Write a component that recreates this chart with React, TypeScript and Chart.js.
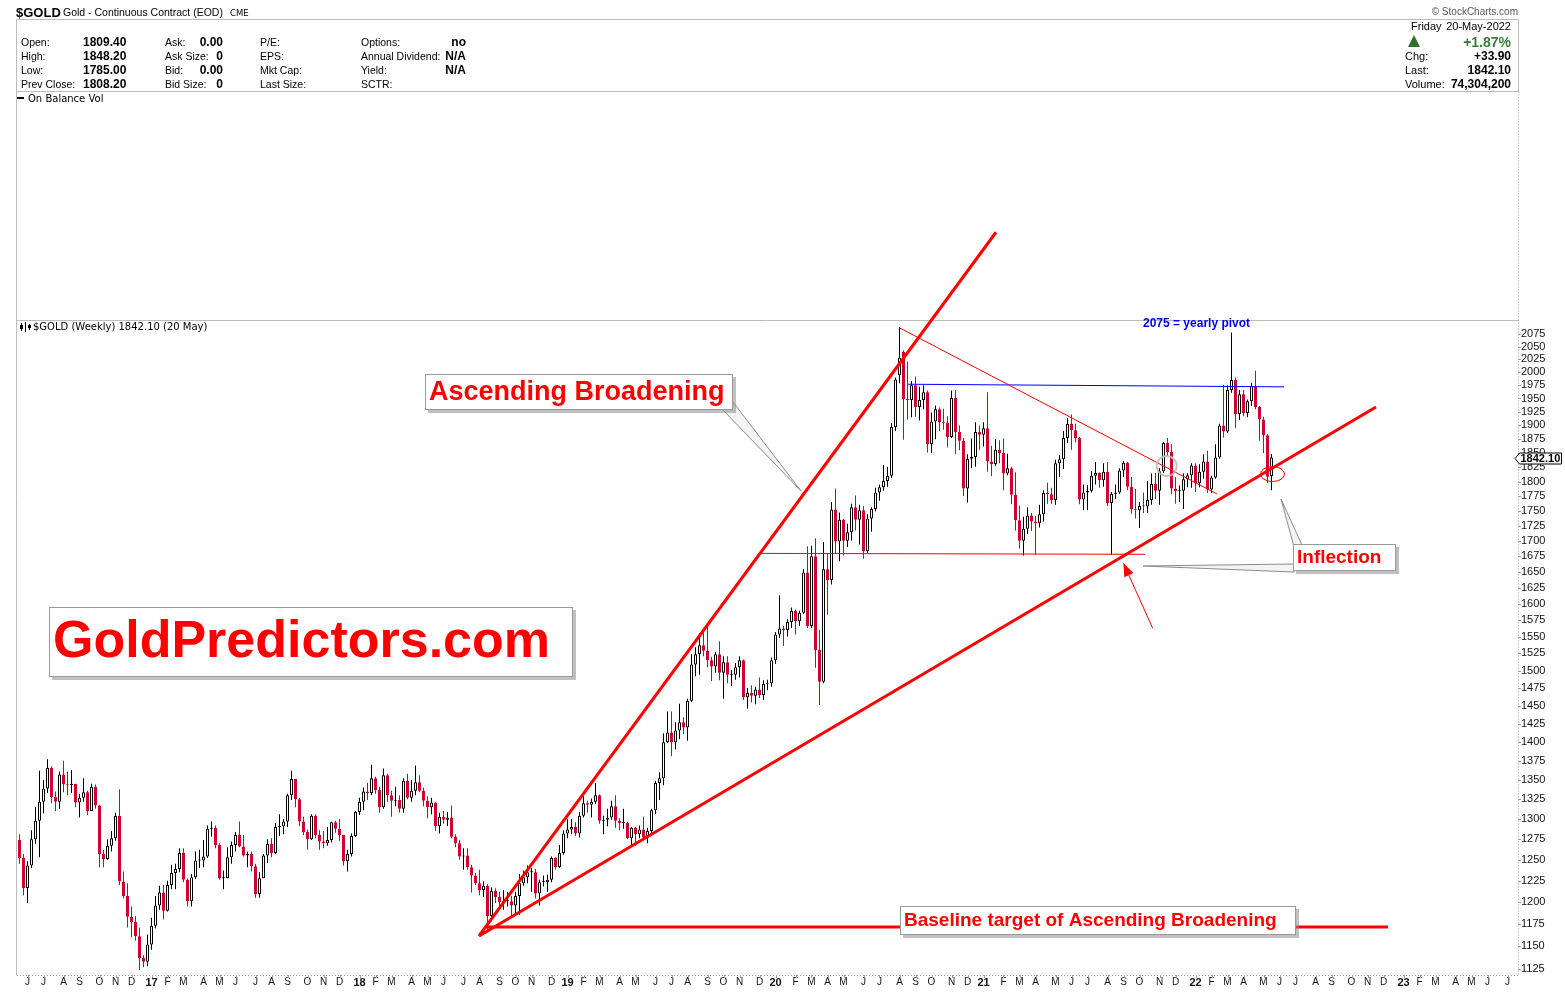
import React, { useEffect, useRef } from "react";
import { Chart, registerables } from "chart.js";

Chart.register(...registerables);

// ---------------- DATA (weekly $GOLD, first bar = week ending 2016-05-20) ----------------
const FIRST_WEEK_UTC = Date.UTC(2016, 4, 20);

const OPEN_2016 = [1274, 1252, 1216, 1243, 1275, 1298, 1322, 1339, 1366, 1328, 1322, 1357, 1344, 1343, 1345, 1321, 1327, 1334, 1310, 1341, 1317, 1257, 1251, 1267, 1276, 1304, 1224, 1207, 1183, 1177, 1161, 1137, 1133];
const HIGH_2016 = [1281, 1257, 1248, 1286, 1315, 1362, 1350, 1377, 1368, 1335, 1361, 1375, 1361, 1363, 1345, 1332, 1352, 1336, 1345, 1344, 1318, 1262, 1275, 1285, 1308, 1338, 1236, 1222, 1195, 1184, 1171, 1140, 1163];
const LOW_2016 = [1245, 1208, 1199, 1240, 1269, 1253, 1307, 1333, 1320, 1310, 1313, 1334, 1330, 1333, 1315, 1302, 1322, 1305, 1310, 1313, 1241, 1241, 1250, 1260, 1273, 1220, 1204, 1171, 1160, 1156, 1124, 1127, 1128];
const CLOSE_2016 = [1252, 1216, 1243, 1275, 1298, 1322, 1339, 1366, 1328, 1322, 1357, 1344, 1343, 1345, 1321, 1327, 1334, 1310, 1341, 1317, 1257, 1251, 1267, 1276, 1304, 1224, 1207, 1183, 1177, 1161, 1137, 1133, 1152];

const OPEN_2017 = [1152, 1173, 1196, 1211, 1190, 1220, 1234, 1239, 1258, 1226, 1201, 1229, 1249, 1249, 1254, 1288, 1289, 1268, 1228, 1228, 1253, 1268, 1280, 1266, 1255, 1257, 1242, 1209, 1228, 1255, 1269, 1258, 1290, 1291, 1297, 1330, 1351, 1325, 1297, 1284, 1275, 1304, 1280, 1272, 1270, 1274, 1296, 1288, 1280, 1248, 1257, 1279];
const HIGH_2017 = [1182, 1207, 1219, 1220, 1225, 1244, 1245, 1264, 1264, 1228, 1233, 1260, 1262, 1274, 1292, 1297, 1292, 1270, 1237, 1265, 1272, 1284, 1297, 1280, 1260, 1260, 1245, 1235, 1257, 1275, 1276, 1295, 1306, 1300, 1332, 1362, 1350, 1327, 1303, 1287, 1306, 1306, 1286, 1285, 1290, 1297, 1298, 1300, 1280, 1262, 1282, 1310];
const LOW_2017 = [1146, 1170, 1191, 1180, 1189, 1215, 1215, 1235, 1223, 1195, 1195, 1227, 1240, 1241, 1252, 1278, 1264, 1226, 1215, 1228, 1245, 1260, 1265, 1254, 1241, 1236, 1205, 1205, 1228, 1246, 1253, 1257, 1279, 1281, 1290, 1324, 1315, 1291, 1280, 1262, 1274, 1276, 1262, 1264, 1267, 1271, 1283, 1273, 1243, 1236, 1254, 1278];
const CLOSE_2017 = [1173, 1196, 1211, 1190, 1220, 1234, 1239, 1258, 1226, 1201, 1229, 1249, 1249, 1254, 1288, 1289, 1268, 1228, 1228, 1253, 1268, 1280, 1266, 1255, 1257, 1242, 1209, 1228, 1255, 1269, 1258, 1290, 1291, 1297, 1330, 1351, 1325, 1297, 1284, 1275, 1304, 1280, 1272, 1270, 1274, 1296, 1288, 1280, 1248, 1257, 1279, 1309];

const OPEN_2018 = [1309, 1322, 1335, 1333, 1352, 1337, 1315, 1356, 1330, 1323, 1324, 1313, 1349, 1327, 1336, 1347, 1336, 1323, 1315, 1321, 1291, 1303, 1299, 1302, 1278, 1270, 1254, 1255, 1241, 1231, 1222, 1214, 1219, 1184, 1213, 1206, 1200, 1201, 1201, 1196, 1207, 1222, 1229, 1235, 1235, 1210, 1223, 1223, 1226, 1252, 1241, 1258];
const HIGH_2018 = [1327, 1340, 1346, 1370, 1354, 1341, 1365, 1358, 1336, 1341, 1330, 1352, 1358, 1350, 1369, 1356, 1340, 1329, 1327, 1321, 1308, 1310, 1309, 1317, 1281, 1274, 1264, 1264, 1244, 1234, 1238, 1224, 1221, 1217, 1216, 1212, 1214, 1212, 1207, 1212, 1233, 1237, 1243, 1240, 1239, 1226, 1231, 1232, 1254, 1253, 1268, 1286];
const LOW_2018 = [1305, 1311, 1324, 1330, 1332, 1308, 1313, 1322, 1303, 1316, 1308, 1308, 1325, 1322, 1330, 1334, 1316, 1301, 1306, 1285, 1282, 1294, 1291, 1276, 1265, 1250, 1238, 1238, 1211, 1220, 1208, 1206, 1167, 1178, 1199, 1194, 1191, 1195, 1182, 1187, 1185, 1219, 1222, 1212, 1204, 1196, 1218, 1212, 1223, 1238, 1240, 1256];
const CLOSE_2018 = [1322, 1335, 1333, 1352, 1337, 1315, 1356, 1330, 1323, 1324, 1313, 1349, 1327, 1336, 1347, 1336, 1323, 1315, 1321, 1291, 1303, 1299, 1302, 1278, 1270, 1254, 1255, 1241, 1231, 1222, 1214, 1219, 1184, 1213, 1206, 1200, 1201, 1201, 1196, 1207, 1222, 1229, 1235, 1235, 1210, 1223, 1223, 1226, 1252, 1241, 1258, 1282];

const OPEN_2019 = [1282, 1287, 1290, 1282, 1304, 1320, 1318, 1322, 1330, 1298, 1299, 1302, 1316, 1298, 1295, 1295, 1276, 1289, 1281, 1287, 1277, 1285, 1311, 1346, 1352, 1400, 1413, 1400, 1416, 1427, 1420, 1457, 1509, 1524, 1537, 1529, 1515, 1506, 1524, 1497, 1512, 1494, 1494, 1505, 1515, 1462, 1468, 1464, 1473, 1465, 1481, 1482];
const HIGH_2019 = [1300, 1300, 1296, 1309, 1329, 1323, 1326, 1346, 1331, 1304, 1313, 1323, 1330, 1301, 1313, 1297, 1290, 1290, 1292, 1303, 1289, 1313, 1349, 1360, 1412, 1442, 1442, 1427, 1453, 1434, 1460, 1524, 1534, 1555, 1557, 1566, 1520, 1527, 1543, 1521, 1521, 1501, 1511, 1521, 1516, 1475, 1479, 1477, 1490, 1486, 1487, 1519];
const LOW_2019 = [1276, 1281, 1279, 1277, 1302, 1308, 1302, 1319, 1294, 1281, 1291, 1299, 1289, 1286, 1288, 1275, 1266, 1267, 1276, 1274, 1270, 1280, 1306, 1324, 1343, 1399, 1381, 1390, 1404, 1411, 1402, 1455, 1492, 1494, 1521, 1505, 1485, 1497, 1486, 1460, 1482, 1478, 1487, 1490, 1458, 1446, 1455, 1452, 1461, 1458, 1472, 1477];
const CLOSE_2019 = [1287, 1290, 1282, 1304, 1320, 1318, 1322, 1330, 1298, 1299, 1302, 1316, 1298, 1295, 1295, 1276, 1289, 1281, 1287, 1277, 1285, 1311, 1346, 1352, 1400, 1413, 1400, 1416, 1427, 1420, 1457, 1509, 1524, 1537, 1529, 1515, 1506, 1524, 1497, 1512, 1494, 1494, 1505, 1515, 1462, 1468, 1464, 1473, 1465, 1481, 1482, 1515];

const OPEN_2020 = [1515, 1553, 1562, 1560, 1572, 1589, 1573, 1586, 1649, 1566, 1675, 1530, 1484, 1654, 1637, 1752, 1699, 1735, 1700, 1714, 1756, 1735, 1751, 1683, 1737, 1753, 1781, 1790, 1801, 1810, 1897, 1994, 2040, 1949, 1947, 1975, 1934, 1947, 1962, 1866, 1907, 1930, 1906, 1905, 1879, 1951, 1888, 1872, 1788, 1840, 1843, 1888];
const HIGH_2020 = [1557, 1613, 1566, 1576, 1594, 1591, 1589, 1654, 1691, 1692, 1704, 1560, 1698, 1680, 1765, 1788, 1747, 1736, 1728, 1762, 1776, 1760, 1758, 1744, 1756, 1789, 1795, 1829, 1826, 1904, 1990, 2089, 2043, 2021, 1983, 1992, 1972, 1975, 1965, 1924, 1937, 1933, 1931, 1917, 1965, 1966, 1900, 1877, 1848, 1876, 1906, 1900];
const LOW_2020 = [1510, 1548, 1536, 1550, 1563, 1553, 1566, 1584, 1563, 1563, 1504, 1451, 1482, 1583, 1630, 1680, 1667, 1676, 1690, 1700, 1717, 1694, 1671, 1680, 1715, 1749, 1767, 1784, 1791, 1806, 1890, 1979, 1874, 1911, 1915, 1916, 1909, 1930, 1851, 1850, 1875, 1890, 1892, 1860, 1877, 1848, 1855, 1775, 1764, 1823, 1826, 1856];
const CLOSE_2020 = [1553, 1562, 1560, 1572, 1589, 1573, 1586, 1649, 1566, 1675, 1530, 1484, 1654, 1637, 1752, 1699, 1735, 1700, 1714, 1756, 1735, 1751, 1683, 1737, 1753, 1781, 1790, 1801, 1810, 1897, 1986, 2028, 1949, 1947, 1975, 1934, 1947, 1962, 1866, 1907, 1930, 1906, 1905, 1879, 1951, 1888, 1872, 1788, 1840, 1843, 1888, 1883];

const OPEN_2021 = [1883, 1895, 1835, 1830, 1856, 1850, 1814, 1823, 1777, 1734, 1700, 1720, 1742, 1732, 1729, 1744, 1780, 1778, 1768, 1832, 1839, 1877, 1903, 1891, 1877, 1769, 1781, 1784, 1810, 1815, 1802, 1817, 1763, 1779, 1781, 1819, 1833, 1791, 1752, 1751, 1758, 1757, 1768, 1796, 1784, 1818, 1868, 1852, 1788, 1783, 1784, 1804, 1811];
const HIGH_2021 = [1906, 1962, 1863, 1875, 1873, 1876, 1849, 1826, 1816, 1759, 1740, 1756, 1746, 1741, 1760, 1785, 1798, 1789, 1838, 1846, 1890, 1913, 1920, 1903, 1879, 1795, 1794, 1818, 1834, 1816, 1832, 1834, 1782, 1795, 1823, 1836, 1834, 1808, 1787, 1765, 1781, 1801, 1814, 1815, 1823, 1870, 1877, 1866, 1808, 1793, 1814, 1815, 1832];
const LOW_2021 = [1862, 1817, 1809, 1827, 1832, 1785, 1811, 1761, 1717, 1687, 1676, 1711, 1716, 1677, 1722, 1732, 1762, 1762, 1760, 1808, 1822, 1868, 1856, 1869, 1761, 1751, 1751, 1781, 1795, 1789, 1791, 1758, 1677, 1770, 1779, 1808, 1785, 1745, 1737, 1721, 1746, 1746, 1760, 1770, 1760, 1815, 1845, 1778, 1762, 1765, 1753, 1790, 1789];
const CLOSE_2021 = [1895, 1835, 1830, 1856, 1850, 1814, 1823, 1777, 1734, 1700, 1720, 1742, 1732, 1729, 1744, 1780, 1778, 1768, 1832, 1839, 1877, 1903, 1891, 1877, 1769, 1781, 1784, 1810, 1815, 1802, 1817, 1763, 1779, 1781, 1819, 1833, 1791, 1752, 1751, 1758, 1757, 1768, 1796, 1784, 1818, 1868, 1852, 1788, 1783, 1784, 1804, 1811, 1828];

const OPEN_2022 = [1828, 1797, 1817, 1835, 1786, 1807, 1842, 1900, 1889, 1966, 1985, 1921, 1958, 1923, 1945, 1974, 1934, 1911, 1882, 1809.4];
const HIGH_2022 = [1832, 1830, 1848, 1854, 1810, 1866, 1903, 1976, 1975, 2078, 1990, 1966, 1966, 1948, 1980, 2003, 1936, 1916, 1884, 1848.2];
const LOW_2022 = [1782, 1790, 1805, 1780, 1780, 1805, 1840, 1878, 1886, 1961, 1895, 1910, 1917, 1915, 1936, 1930, 1872, 1850, 1797, 1785];
const CLOSE_2022 = [1797, 1817, 1835, 1786, 1807, 1842, 1900, 1889, 1966, 1985, 1921, 1958, 1923, 1945, 1974, 1934, 1911, 1882, 1808.2, 1842.1];

const PRICE_TICKS = [1125, 1150, 1175, 1200, 1225, 1250, 1275, 1300, 1325, 1350, 1375, 1400, 1425, 1450, 1475, 1500, 1525, 1550, 1575, 1600, 1625, 1650, 1675, 1700, 1725, 1750, 1775, 1800, 1825, 1850, 1875, 1900, 1925, 1950, 1975, 2000, 2025, 2050, 2075];
const MONTH_LETTERS = ["J", "F", "M", "A", "M", "J", "J", "A", "S", "O", "N", "D"];
const LAST_PRICE = 1842.1;
const LAST_PRICE_LABEL = "1842.10";

// annotation lines drawn in data space: [weekIndex, price]
const STEEP_LINE = [[114.875, 1161.4], [244.125, 2289]];
const LOWER_LINE = [[114.875, 1161.4], [339.125, 1934]];
const BASELINE = [[116.625, 1171.6], [342.125, 1171.6]];
const DOWN_LINE = [[220.125, 2087], [299.375, 1778.5]];
const PIVOT_LINE = [[222.125, 1977], [316.125, 1972]];
const SUPPORT_LINE = [[185.125, 1679.5], [281.375, 1678]];
const ARROW = [[283.3, 1562.5], [276.0, 1663.5]];
const RED_RING = [313.25, 1813];
const GRAY_RING = [286.8, 1827];

// ---------------- helpers ----------------
const OPENS = [...OPEN_2016, ...OPEN_2017, ...OPEN_2018, ...OPEN_2019, ...OPEN_2020, ...OPEN_2021, ...OPEN_2022];
const HIGHS = [...HIGH_2016, ...HIGH_2017, ...HIGH_2018, ...HIGH_2019, ...HIGH_2020, ...HIGH_2021, ...HIGH_2022];
const LOWS = [...LOW_2016, ...LOW_2017, ...LOW_2018, ...LOW_2019, ...LOW_2020, ...LOW_2021, ...LOW_2022];
const CLOSES = [...CLOSE_2016, ...CLOSE_2017, ...CLOSE_2018, ...CLOSE_2019, ...CLOSE_2020, ...CLOSE_2021, ...CLOSE_2022];

const CANDLE_RED = "#d2002e";
const LINE_RED = "#ff0000";
const SANS = '"Liberation Sans", Arial, Helvetica, sans-serif';
const VERD = '"DejaVu Sans", Verdana, sans-serif';
const WEEK_MS = 7 * 86400000;
const X_MIN = -0.625;
const X_MAX = 374.375;

function weekDate(i: number) {
  return new Date(FIRST_WEEK_UTC + i * WEEK_MS);
}

const MONTH_TICKS: { value: number; label: string; year: boolean }[] = [];
for (let i = 1; i <= 374; i++) {
  const d = weekDate(i);
  const p = weekDate(i - 1);
  if (d.getUTCMonth() !== p.getUTCMonth()) {
    const m = d.getUTCMonth();
    MONTH_TICKS.push({
      value: i,
      label: m === 0 ? String(d.getUTCFullYear()).slice(2) : MONTH_LETTERS[m],
      year: m === 0,
    });
  }
}
const TICK_LABEL = new Map(MONTH_TICKS.map((t) => [t.value, t.label]));
const YEAR_TICKS = new Set(MONTH_TICKS.filter((t) => t.year).map((t) => t.value));

function lineDataset(pts: number[][], color: string, width: number, clip = true) {
  return {
    type: "line" as const,
    data: pts.map(([x, y]) => ({ x, y })),
    borderColor: color,
    borderWidth: width,
    pointRadius: 0,
    fill: false,
    tension: 0,
    order: 0,
    clip: clip ? 0 : false,
  };
}

function drawBox(ctx: CanvasRenderingContext2D, x1: number, y1: number, x2: number, y2: number) {
  ctx.fillStyle = "rgba(140,140,140,0.55)";
  ctx.fillRect(x1 + 3, y1 + 3, x2 - x1, y2 - y1);
  ctx.fillStyle = "#ffffff";
  ctx.fillRect(x1, y1, x2 - x1, y2 - y1);
  ctx.strokeStyle = "#9a9a9a";
  ctx.lineWidth = 1;
  ctx.strokeRect(x1 + 0.5, y1 + 0.5, x2 - x1 - 1, y2 - y1 - 1);
}

function drawWedge(ctx: CanvasRenderingContext2D, pts: number[][]) {
  ctx.beginPath();
  ctx.moveTo(pts[0][0], pts[0][1]);
  for (let i = 1; i < pts.length; i++) ctx.lineTo(pts[i][0], pts[i][1]);
  ctx.closePath();
  ctx.fillStyle = "#f4f4f4";
  ctx.fill();
  ctx.strokeStyle = "#8c8c8c";
  ctx.lineWidth = 1;
  ctx.stroke();
}

function txt(ctx: CanvasRenderingContext2D, s: string, x: number, y: number, font: string, color: string, align: CanvasTextAlign = "left") {
  ctx.font = font;
  ctx.fillStyle = color;
  ctx.textAlign = align;
  ctx.textBaseline = "middle";
  ctx.fillText(s, x, y);
}

const annotationPlugin = {
  id: "goldAnnotations",
  beforeDraw(chart: any) {
    const ctx: CanvasRenderingContext2D = chart.ctx;
    ctx.save();
    ctx.fillStyle = "#ffffff";
    ctx.fillRect(0, 0, chart.width, chart.height);
    ctx.strokeStyle = "#bcbcbc";
    ctx.lineWidth = 1;
    ctx.beginPath();
    ctx.moveTo(16.5, 19.5); ctx.lineTo(1518.5, 19.5);
    ctx.moveTo(16.5, 19.5); ctx.lineTo(16.5, 975.5);
    ctx.moveTo(16.5, 91.5); ctx.lineTo(1518.5, 91.5);
    ctx.moveTo(16.5, 320.5); ctx.lineTo(1518.5, 320.5);
    ctx.moveTo(1518.5, 19.5); ctx.lineTo(1518.5, 91.5);
    ctx.stroke();
    ctx.setLineDash([1, 2]);
    ctx.strokeStyle = "#999999";
    ctx.beginPath();
    ctx.moveTo(1518.5, 91.5); ctx.lineTo(1518.5, 976);
    ctx.moveTo(17, 975.5); ctx.lineTo(1518.5, 975.5);
    ctx.stroke();
    ctx.setLineDash([]);
    ctx.restore();
  },
  afterDraw(chart: any) {
    const ctx: CanvasRenderingContext2D = chart.ctx;
    const xs = chart.scales.x;
    const ys = chart.scales.y;
    const px = (v: number) => xs.getPixelForValue(v);
    const py = (v: number) => ys.getPixelForValue(v);
    ctx.save();

    // axis tick marks
    ctx.strokeStyle = "#a0a0a0";
    ctx.lineWidth = 1;
    ctx.beginPath();
    for (const t of PRICE_TICKS) {
      const y = Math.round(py(t)) + 0.5;
      ctx.moveTo(1518, y); ctx.lineTo(1521, y);
    }
    for (const t of MONTH_TICKS) {
      const x = Math.round(px(t.value)) + 0.5;
      ctx.moveTo(x, 975); ctx.lineTo(x, 978);
    }
    ctx.stroke();

    // arrow
    const ax1 = px(ARROW[0][0]), ay1 = py(ARROW[0][1]);
    const ax2 = px(ARROW[1][0]), ay2 = py(ARROW[1][1]);
    ctx.strokeStyle = LINE_RED;
    ctx.lineWidth = 1;
    ctx.beginPath(); ctx.moveTo(ax1, ay1); ctx.lineTo(ax2, ay2); ctx.stroke();
    const len = Math.hypot(ax2 - ax1, ay2 - ay1);
    const ux = (ax2 - ax1) / len, uy = (ay2 - ay1) / len;
    const bx = ax2 - ux * 13, by = ay2 - uy * 13;
    ctx.fillStyle = LINE_RED;
    ctx.beginPath();
    ctx.moveTo(ax2, ay2);
    ctx.lineTo(bx - uy * 5, by + ux * 5);
    ctx.lineTo(bx + uy * 5, by - ux * 5);
    ctx.closePath();
    ctx.fill();

    // rings
    ctx.strokeStyle = LINE_RED;
    ctx.lineWidth = 1;
    ctx.beginPath();
    ctx.ellipse(px(RED_RING[0]), py(RED_RING[1]), 12, 7.5, 0, 0, Math.PI * 2);
    ctx.stroke();
    ctx.strokeStyle = "rgba(190,190,190,0.9)";
    ctx.lineWidth = 2;
    ctx.beginPath();
    ctx.arc(px(GRAY_RING[0]), py(GRAY_RING[1]), 10, 0, Math.PI * 2);
    ctx.stroke();

    // callouts
    drawWedge(ctx, [[722, 409], [801, 491], [733, 402]]);
    drawWedge(ctx, [[1281, 499], [1294, 547], [1302, 545]]);
    drawWedge(ctx, [[1143, 566], [1294, 564], [1294, 572]]);

    // text boxes
    drawBox(ctx, 425, 374, 733, 410);
    txt(ctx, "Ascending Broadening", 429, 393, `bold 27px ${SANS}`, LINE_RED);

    drawBox(ctx, 49, 607, 573, 677);
    txt(ctx, "GoldPredictors.com", 53, 643, `bold 52px ${SANS}`, LINE_RED);

    drawBox(ctx, 900, 906, 1296, 935);
    txt(ctx, "Baseline target of Ascending Broadening", 904, 921, `bold 19px ${SANS}`, LINE_RED);

    drawBox(ctx, 1293, 544, 1396, 571);
    txt(ctx, "Inflection", 1297, 558, `bold 19px ${SANS}`, LINE_RED);

    txt(ctx, "2075 = yearly pivot", 1143, 324, `bold 12px ${SANS}`, "#0000ee");

    // panel labels
    ctx.fillStyle = "#000";
    ctx.fillRect(17, 97, 7, 2);
    txt(ctx, "On Balance Vol", 28, 99, `10px ${VERD}`, "#000");
    // tiny candle icon
    ctx.strokeStyle = "#000";
    ctx.lineWidth = 1;
    ctx.beginPath();
    ctx.moveTo(21.5, 323); ctx.lineTo(21.5, 331);
    ctx.moveTo(25.5, 322); ctx.lineTo(25.5, 332);
    ctx.moveTo(29.5, 324); ctx.lineTo(29.5, 330);
    ctx.stroke();
    ctx.fillStyle = "#000";
    ctx.fillRect(20, 325, 3, 4);
    ctx.fillRect(28, 325, 3, 3);
    txt(ctx, "$GOLD (Weekly) 1842.10 (20 May)", 33, 327, `10px ${VERD}`, "#000");

    // last price tag on axis
    const ly = Math.round(py(LAST_PRICE)) + 0.5;
    ctx.beginPath();
    ctx.moveTo(1515, ly);
    ctx.lineTo(1519.5, ly - 5.5);
    ctx.lineTo(1561.5, ly - 5.5);
    ctx.lineTo(1561.5, ly + 5.5);
    ctx.lineTo(1519.5, ly + 5.5);
    ctx.closePath();
    ctx.fillStyle = "#fff";
    ctx.fill();
    ctx.strokeStyle = "#000";
    ctx.lineWidth = 1;
    ctx.stroke();
    txt(ctx, LAST_PRICE_LABEL, 1520.5, ly + 0.5, `bold 11px ${SANS}`, "#000");

    ctx.restore();
  },
};

function buildConfig(): any {
  const wickData: any[] = [];
  const bodyData: any[] = [];
  const wickColors: string[] = [];
  const bodyFill: string[] = [];
  const bodyBorder: string[] = [];
  for (let i = 0; i < CLOSES.length; i++) {
    const o = OPENS[i], c = CLOSES[i];
    const prev = i > 0 ? CLOSES[i - 1] : o;
    const color = c >= prev ? "#000000" : CANDLE_RED;
    const hollow = c > o;
    wickData.push({ x: i, y: [LOWS[i], HIGHS[i]] });
    bodyData.push({ x: i, y: [Math.min(o, c), Math.max(o, c)] });
    wickColors.push(color);
    bodyFill.push(hollow ? "#ffffff" : color);
    bodyBorder.push(color);
  }

  return {
    type: "bar",
    data: {
      datasets: [
        lineDataset(STEEP_LINE, LINE_RED, 3, false),
        lineDataset(LOWER_LINE, LINE_RED, 3),
        lineDataset(BASELINE, LINE_RED, 3),
        lineDataset(DOWN_LINE, LINE_RED, 1),
        lineDataset(PIVOT_LINE, "#0000ff", 1),
        lineDataset(SUPPORT_LINE, LINE_RED, 1),
        {
          type: "bar",
          data: bodyData,
          backgroundColor: bodyFill,
          borderColor: bodyBorder,
          borderWidth: 1,
          borderSkipped: false,
          barThickness: 3,
          minBarLength: 1,
          grouped: false,
          inflateAmount: 0,
          order: 1,
        },
        {
          type: "bar",
          data: wickData,
          backgroundColor: wickColors,
          borderWidth: 0,
          barThickness: 1,
          grouped: false,
          inflateAmount: 0,
          order: 2,
        },
      ],
    },
    options: {
      animation: false,
      responsive: false,
      maintainAspectRatio: false,
      devicePixelRatio: 1,
      events: [],
      layout: { padding: { left: 17, top: 320, right: 0, bottom: 0 } },
      plugins: { legend: { display: false }, tooltip: { enabled: false }, title: { display: false } },
      scales: {
        x: {
          type: "linear",
          min: X_MIN,
          max: X_MAX,
          offset: false,
          grid: { display: false, drawTicks: false },
          border: { display: false },
          afterBuildTicks: (scale: any) => {
            scale.ticks = MONTH_TICKS.map((t) => ({ value: t.value }));
          },
          afterFit: (scale: any) => {
            scale.height = 17;
          },
          ticks: {
            autoSkip: false,
            maxRotation: 0,
            minRotation: 0,
            padding: 1,
            color: "#111",
            font: (c: any) =>
              c.tick && YEAR_TICKS.has(c.tick.value)
                ? { family: SANS, size: 11, weight: "bold" }
                : { family: SANS, size: 10 },
            callback: (v: any) => TICK_LABEL.get(v) ?? "",
          },
        },
        y: {
          type: "logarithmic",
          position: "right",
          min: 1118.5,
          max: 2103.3,
          grid: { display: false, drawTicks: false },
          border: { display: false },
          afterBuildTicks: (scale: any) => {
            scale.ticks = PRICE_TICKS.map((v) => ({ value: v }));
          },
          afterFit: (scale: any) => {
            scale.width = 48;
          },
          ticks: {
            autoSkip: false,
            padding: 4,
            color: "#111",
            font: { family: SANS, size: 11 },
            callback: (v: any) => String(v),
          },
        },
      },
    },
    plugins: [annotationPlugin],
  };
}

type TProps = { x: number; y: number; right?: boolean; bold?: boolean; size?: number; color?: string; family?: string; children: React.ReactNode };
function T({ x, y, right, bold, size = 10.5, color = "#000", family = SANS, children }: TProps) {
  const style: React.CSSProperties = {
    position: "absolute",
    top: y,
    transform: "translateY(-50%)",
    whiteSpace: "nowrap",
    lineHeight: 1,
    fontFamily: family,
    fontSize: size,
    fontWeight: bold ? 700 : 400,
    color,
  };
  if (right) style.right = 1565 - x;
  else style.left = x;
  return <div style={style}>{children}</div>;
}

const HEADER_ROWS = [
  ["Open:", "1809.40", "Ask:", "0.00", "P/E:", "Options:", "no"],
  ["High:", "1848.20", "Ask Size:", "0", "EPS:", "Annual Dividend:", "N/A"],
  ["Low:", "1785.00", "Bid:", "0.00", "Mkt Cap:", "Yield:", "N/A"],
  ["Prev Close:", "1808.20", "Bid Size:", "0", "Last Size:", "SCTR:", ""],
];
const HEADER_RIGHT = [
  ["Chg:", "+33.90"],
  ["Last:", "1842.10"],
  ["Volume:", "74,304,200"],
];

function Header() {
  const rowY = [41.5, 55.8, 70.1, 84.4];
  return (
    <div style={{ position: "absolute", left: 0, top: 0, width: 1565, height: 110, pointerEvents: "none" }}>
      <T x={16} y={12} bold size={13}>$GOLD</T>
      <T x={63} y={12} size={10.5}>Gold - Continuous Contract (EOD)</T>
      <T x={230} y={12.5} size={8.5} family={VERD}>CME</T>
      <T x={1518} y={11.5} right size={10} color="#555">© StockCharts.com</T>
      {HEADER_ROWS.map((r, i) => (
        <React.Fragment key={i}>
          <T x={21} y={rowY[i]}>{r[0]}</T>
          <T x={83} y={rowY[i]} bold size={12}>{r[1]}</T>
          <T x={165} y={rowY[i]}>{r[2]}</T>
          <T x={223} y={rowY[i]} right bold size={12}>{r[3]}</T>
          <T x={260} y={rowY[i]}>{r[4]}</T>
          <T x={361} y={rowY[i]}>{r[5]}</T>
          <T x={466} y={rowY[i]} right bold size={12}>{r[6]}</T>
        </React.Fragment>
      ))}
      <T x={1411} y={26} size={11}>Friday</T>
      <T x={1511} y={26} right size={11}>20-May-2022</T>
      <div
        style={{
          position: "absolute",
          left: 1408,
          top: 35,
          width: 0,
          height: 0,
          borderLeft: "6px solid transparent",
          borderRight: "6px solid transparent",
          borderBottom: "12px solid #2f6e2f",
        }}
      />
      <T x={1511} y={41.5} right bold size={14} color="#3a7d3a">+1.87%</T>
      {HEADER_RIGHT.map((r, i) => (
        <React.Fragment key={i}>
          <T x={1405} y={rowY[i + 1]} size={11}>{r[0]}</T>
          <T x={1511} y={rowY[i + 1]} right bold size={12}>{r[1]}</T>
        </React.Fragment>
      ))}
    </div>
  );
}

export default function App() {
  const ref = useRef<HTMLCanvasElement>(null);
  useEffect(() => {
    Chart.defaults.font.family = SANS;
    const chart = new Chart(ref.current as HTMLCanvasElement, buildConfig());
    return () => chart.destroy();
  }, []);
  return (
    <div style={{ position: "fixed", left: 0, top: 0, width: 1565, height: 992, background: "#fff", overflow: "hidden" }}>
      <canvas ref={ref} width={1565} height={992} style={{ position: "absolute", left: 0, top: 0, width: 1565, height: 992 }} />
      <Header />
    </div>
  );
}
